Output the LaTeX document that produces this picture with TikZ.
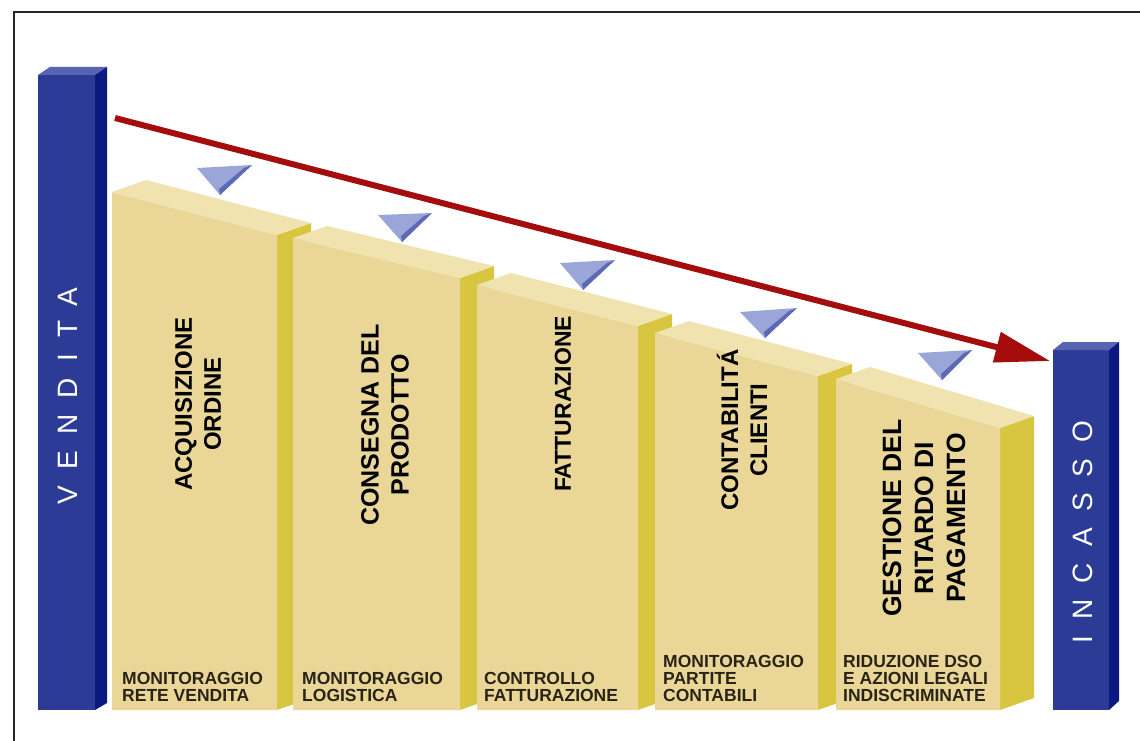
\documentclass[tikz,border=0pt]{standalone}
\usepackage{fontspec}
\setmainfont{Liberation Sans}
\newfontfamily\barfont[LetterSpace=58]{Liberation Sans}
\usetikzlibrary{arrows.meta}

\definecolor{barfront}{HTML}{2C3C96}
\definecolor{barside}{HTML}{0B1880}
\definecolor{bartop}{HTML}{5565B4}
\definecolor{blockfront}{HTML}{EAD798}
\definecolor{blocktop}{HTML}{F1E3B0}
\definecolor{blockside}{HTML}{D8C540}
\definecolor{tri}{HTML}{9AA5D8}
\definecolor{trishade}{HTML}{5D69B5}
\definecolor{arrowred}{HTML}{A50D0D}
\definecolor{captext}{HTML}{2A2418}

% one yellow step: left x, right x, top-left y, top-right y
\newcommand{\yblock}[4]{%
  \fill[blockside] (#2,#4) -- ++(34,-12) -- (#2+34,698) -- (#2,710) -- cycle;
  \fill[blockfront] (#1,#3) -- (#2,#4) -- (#2,710) -- (#1,710) -- cycle;
  \fill[blocktop] (#1,#3) -- (#2,#4) -- ++(34,-12) -- (#1+34,#3-12) -- cycle;
}
% one blue marker: top-left, top-right, tip
\newcommand{\bluemark}[6]{%
  \fill[tri] (#1,#2) -- (#3,#4) -- (#5,#6) -- cycle;
  \fill[trishade] (#3,#4) -- (#5,#6) -- (#5-1,#6-6) -- (#3-8,#4+3) -- cycle;
}

\tikzset{
  steplabel/.style={font=\bfseries\fontsize{24}{29}\selectfont, align=center, rotate=90, inner sep=0pt},
  caption/.style={font=\bfseries\fontsize{17.5}{17}\selectfont, text=captext, align=left, anchor=south west, inner sep=0pt},
  barlabel/.style={font=\barfont\fontsize{28}{28}\selectfont, text=white, rotate=90, inner sep=0pt},
}

\begin{document}
\begin{tikzpicture}[x=1pt,y=-1pt]
\useasboundingbox (0,0) rectangle (1140,741);
\fill[white] (0,0) rectangle (1140,741);

% frame
\draw[line width=1.6pt, black!85] (14,741) -- (14,12) -- (1140,12);

% left bar
\fill[barfront] (38,75) -- (95,75) -- (95,710) -- (38,710) -- cycle;
\fill[bartop] (38,75) -- (95,75) -- (107,67) -- (50,67) -- cycle;
\fill[barside] (95,75) -- (107,67) -- (107,703) -- (95,710) -- cycle;
\node[barlabel] (vendita) at (68,396) {VENDITA};

% right bar
\fill[barfront] (1053,350) -- (1109,350) -- (1109,710) -- (1053,710) -- cycle;
\fill[bartop] (1053,350) -- (1109,350) -- (1119,342) -- (1063,342) -- cycle;
\fill[barside] (1109,350) -- (1119,342) -- (1119,701) -- (1109,710) -- cycle;
\node[barlabel] (incasso) at (1083,532) {INCASSO};

% steps
\yblock{112}{277}{192}{235}
\yblock{293}{460}{238}{278}
\yblock{477}{638}{285}{326}
\yblock{655}{818}{333}{376}
\yblock{836}{1000}{379}{428}

% markers
\bluemark{197}{168}{252}{165}{220}{195}
\bluemark{378}{215}{432}{213}{402}{242}
\bluemark{560}{263}{615}{260}{583}{290}
\bluemark{740}{312}{797}{308}{765}{338}
\bluemark{918}{353}{972}{350}{942}{380}

% flow arrow
\coordinate (flowstart) at (115,118);
\coordinate (flowend) at (1050,361);
\draw[arrowred, line width=6pt, -{Triangle[length=55pt,width=30pt]}] (flowstart) -- (flowend);

% step titles
\node[steplabel] (s1) at (198,404) {ACQUISIZIONE\\ORDINE};
\node[steplabel, font=\bfseries\fontsize{25}{30}\selectfont] (s2) at (385,425) {CONSEGNA DEL\\PRODOTTO};
\node[steplabel, font=\bfseries\fontsize{23}{29}\selectfont] (s3) at (563,404) {FATTURAZIONE};
\node[steplabel] (s4) at (742,430) {CONTABILIT\'A\\CLIENTI};
\node[steplabel, font=\bfseries\fontsize{26.5}{32}\selectfont] (s5) at (924,518) {GESTIONE DEL\\RITARDO DI\\PAGAMENTO};

% step notes
\node[caption] (c1) at (122,702) {MONITORAGGIO\\RETE VENDITA};
\node[caption] (c2) at (302,702) {MONITORAGGIO\\LOGISTICA};
\node[caption] (c3) at (484,702) {CONTROLLO\\FATTURAZIONE};
\node[caption] (c4) at (663,702) {MONITORAGGIO\\PARTITE\\CONTABILI};
\node[caption] (c5) at (843,702) {RIDUZIONE DSO\\E AZIONI LEGALI\\INDISCRIMINATE};
\end{tikzpicture}
\end{document}
